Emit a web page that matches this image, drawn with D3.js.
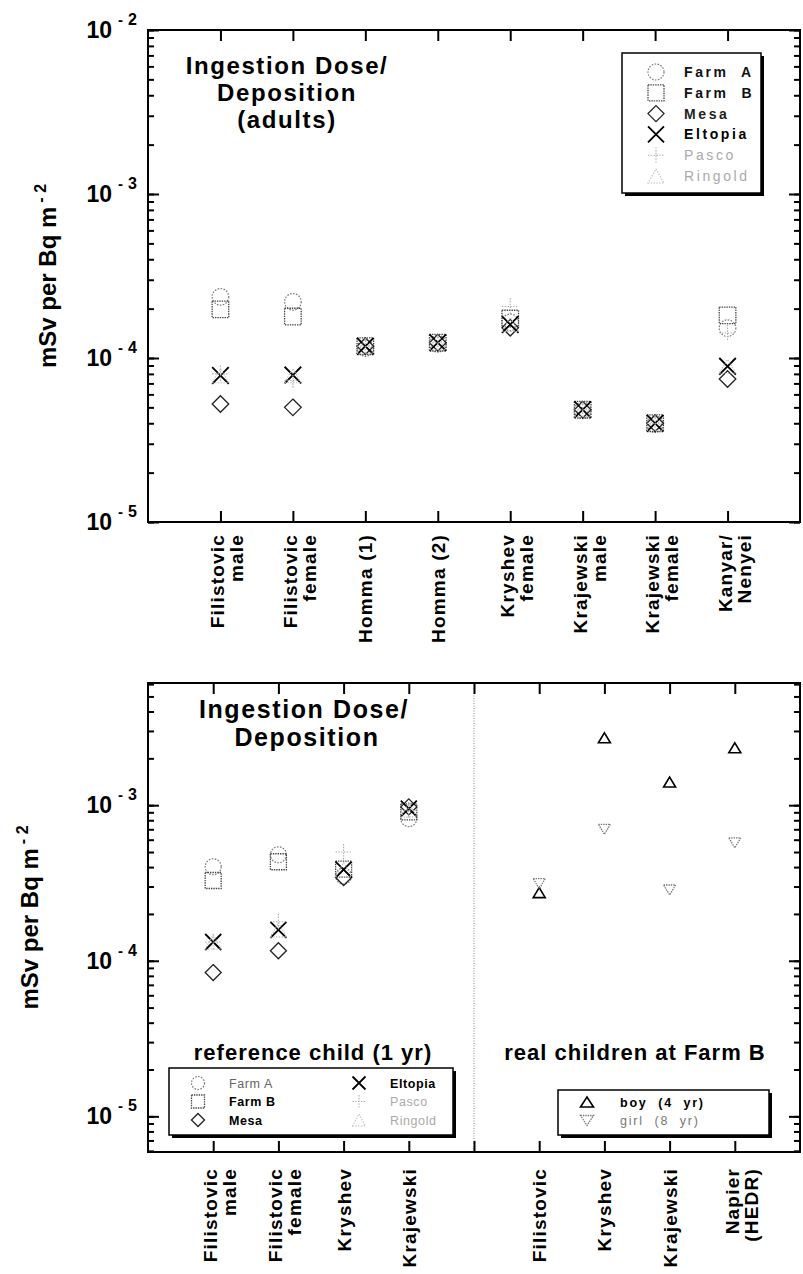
<!DOCTYPE html>
<html>
<head>
<meta charset="utf-8">
<script src="https://cdn.jsdelivr.net/npm/d3@7"></script>
<style>
  body { margin: 0; background: #fff; }
  svg { display: block; }
  text { font-family: "Liberation Sans", Arial, sans-serif; font-weight: bold; fill: #000; }
</style>
</head>
<body>
<svg id="fig" width="803" height="1274"></svg>
<script>
// ---- Adults: ingestion dose per unit deposition (mSv per Bq m^-2) ----
const adultCategories = [["Filistovic", "male"], ["Filistovic", "female"], ["Homma (1)"], ["Homma (2)"],
                         ["Kryshev", "female"], ["Krajewski", "male"], ["Krajewski", "female"], ["Kanyar/", "Nenyei"]];
const adultFarmA   = [2.36e-4, 2.20e-4, 1.15e-4, 1.22e-4, 1.65e-4, 4.80e-5, 3.95e-5, 1.52e-4];
const adultFarmB   = [1.98e-4, 1.79e-4, 1.18e-4, 1.24e-4, 1.74e-4, 4.84e-5, 4.00e-5, 1.82e-4];
const adultMesa    = [5.24e-5, 5.00e-5, 1.18e-4, 1.24e-4, 1.53e-4, 4.84e-5, 4.00e-5, 7.45e-5];
const adultEltopia = [7.82e-5, 7.87e-5, 1.18e-4, 1.24e-4, 1.60e-4, 4.84e-5, 4.00e-5, 8.90e-5];
const adultPasco   = [8.00e-5, 7.30e-5, 1.18e-4, 1.24e-4, 2.06e-4, 4.84e-5, 4.00e-5, 1.42e-4];
const adultRingold = [7.80e-5, 7.80e-5, 1.18e-4, 1.24e-4, 1.60e-4, 4.84e-5, 4.00e-5, 8.90e-5];

// ---- Reference child (1 yr) ----
const childCategories = [["Filistovic", "male"], ["Filistovic", "female"], ["Kryshev"], ["Krajewski"]];
const childFarmA   = [4.02e-4, 4.80e-4, 3.50e-4, 8.20e-4];
const childFarmB   = [3.28e-4, 4.33e-4, 3.88e-4, 9.06e-4];
const childMesa    = [8.40e-5, 1.16e-4, 3.43e-4, 9.75e-4];
const childEltopia = [1.32e-4, 1.58e-4, 3.85e-4, 9.50e-4];
const childPasco   = [1.32e-4, 1.78e-4, 5.00e-4, 9.30e-4];
const childRingold = [1.32e-4, 1.58e-4, 3.85e-4, 9.30e-4];

// ---- Real children at Farm B ----
const realCategories = [["Filistovic"], ["Kryshev"], ["Krajewski"], ["Napier", "(HEDR)"]];
const boyDose  = [2.74e-4, 2.71e-3, 1.41e-3, 2.34e-3];
const girlDose = [3.13e-4, 7.00e-4, 2.85e-4, 5.73e-4];

// ---- Axis labels ----
const adultExponents = [-5, -4, -3, -2];
const childExponents = [-5, -4, -3];
const yAxisTitle = "mSv per Bq m";
const yAxisTitleSup = "- 2";

const svg = d3.select("#fig");

// Marker styles per site / child
const markerStyle = {
  farmA:   { shape: "circle",  stroke: "#7a7a7a", width: 1.2, dash: "1.6,1.4" },
  farmB:   { shape: "square",  stroke: "#444",    width: 1.3, dash: "1.4,1" },
  mesa:    { shape: "diamond", stroke: "#222",    width: 1.3, dash: null },
  eltopia: { shape: "cross",   stroke: "#000",    width: 1.8, dash: null },
  pasco:   { shape: "plus",    stroke: "#aaa",    width: 1.1, dash: "1.4,1.4" },
  ringold: { shape: "triUp",   stroke: "#bbb",    width: 1.1, dash: "1.4,1.4" },
  boy:     { shape: "triUp",   stroke: "#000",    width: 1.6, dash: null },
  girl:    { shape: "triDown", stroke: "#777",    width: 1.3, dash: "1.4,1" }
};

function shapePath(shape, h, th) {
  switch (shape) {
    case "square":  return `M${-h},${-h}H${h}V${h}H${-h}Z`;
    case "diamond": return `M0,${-h}L${h},0L0,${h}L${-h},0Z`;
    case "cross":   return `M${-h},${-h}L${h},${h}M${-h},${h}L${h},${-h}`;
    case "plus":    return `M${-h},0H${h}M0,${-h}V${h}`;
    case "triUp":   return `M${-h},${th}H${h}L0,${-th}Z`;
    case "triDown": return `M${-h},${-th}H${h}L0,${th}Z`;
  }
  return "";
}

function marker(g, key, x, y, h, th) {
  const s = markerStyle[key];
  let el;
  if (s.shape === "circle") {
    el = g.append("circle").attr("cx", x).attr("cy", y).attr("r", h);
  } else {
    el = g.append("path").attr("d", shapePath(s.shape, h, th === undefined ? h : th))
      .attr("transform", `translate(${x},${y})`);
  }
  el.attr("fill", "none").attr("stroke", s.stroke).attr("stroke-width", s.width);
  if (s.dash) el.attr("stroke-dasharray", s.dash);
  return el;
}

function minorValues(domain) {
  const out = [];
  for (let e = -7; e <= -1; e++) {
    for (let k = 1; k <= 9; k++) {
      const v = k * Math.pow(10, e);
      if (v >= domain[0] * 0.999 && v <= domain[1] * 1.001) out.push(v);
    }
  }
  return out;
}

function drawFrame(g, p, x, y, xTicks, exps) {
  const dom = y.domain();
  const minors = minorValues(dom);
  const majors = exps.map(e => Math.pow(10, e)).filter(v => v >= dom[0] * 0.999 && v <= dom[1] * 1.001);
  const strip = sel => { sel.select(".domain").remove(); sel.selectAll("line").attr("stroke", "#000").attr("stroke-width", 2); };
  const specs = [
    [d3.axisRight(y), `translate(${p.left},0)`],
    [d3.axisLeft(y), `translate(${p.right},0)`]
  ];
  specs.forEach(([ax, tr]) => {
    g.append("g").attr("transform", tr).call(ax.tickValues(minors).tickSize(6).tickFormat("")).call(strip);
    g.append("g").attr("transform", tr).call(ax.tickValues(majors).tickSize(11).tickFormat("")).call(strip);
  });
  g.append("g").attr("transform", `translate(0,${p.top})`)
    .call(d3.axisBottom(x).tickValues(xTicks).tickSize(11).tickFormat("")).call(strip);
  g.append("g").attr("transform", `translate(0,${p.bottom})`)
    .call(d3.axisTop(x).tickValues(xTicks).tickSize(11).tickFormat("")).call(strip);
  g.append("rect").attr("x", p.left).attr("y", p.top)
    .attr("width", p.right - p.left).attr("height", p.bottom - p.top)
    .attr("fill", "none").attr("stroke", "#000").attr("stroke-width", 2);

  // decade labels 10^-n
  exps.forEach(e => {
    const t = g.append("text").attr("x", p.left - 11).attr("y", y(Math.pow(10, e)) + 8)
      .attr("text-anchor", "end").style("font-size", "23px");
    t.append("tspan").text("10");
    t.append("tspan").attr("dx", 6).attr("dy", -13).style("font-size", "15px").text("-");
    t.append("tspan").attr("dx", 5).style("font-size", "16px").text(String(-e));
  });
}

function drawYTitle(g, bx, cy) {
  const t = g.append("text").attr("transform", `translate(${bx},${cy}) rotate(-90)`)
    .attr("text-anchor", "middle").style("font-size", "24px");
  t.append("tspan").text(yAxisTitle);
  t.append("tspan").attr("dx", 4).attr("dy", -10).style("font-size", "16px").text(yAxisTitleSup);
}

function drawXLabels(g, cats, positions, x, yTop, gap) {
  cats.forEach((lines, i) => {
    const cx = x(positions[i]);
    lines.forEach((line, j) => {
      const bx = lines.length === 1 ? cx + 7 : cx + 4 + j * gap;
      g.append("text").attr("transform", `translate(${bx},${yTop}) rotate(-90)`)
        .attr("text-anchor", "end").style("font-size", "19px").style("letter-spacing", "1.2px")
        .text(line);
    });
  });
}

function legendBox(g, x0, y0, w, h) {
  g.append("rect").attr("x", x0 + 3).attr("y", y0 + 3).attr("width", w).attr("height", h).attr("fill", "#000");
  g.append("rect").attr("x", x0).attr("y", y0).attr("width", w).attr("height", h)
    .attr("fill", "#fff").attr("stroke", "#000").attr("stroke-width", 1.5);
}

// =================== Adults panel ===================
const pA = { left: 148, right: 800, top: 30, bottom: 522 };
const xA = d3.scaleLinear().domain([0, 9]).range([pA.left, pA.right]);
const yA = d3.scaleLog().domain([1e-5, 1e-2]).range([pA.bottom, pA.top]);
const gA = svg.append("g");
const adultPos = adultCategories.map((d, i) => i + 1);

const adultSeries = [["farmA", adultFarmA], ["farmB", adultFarmB], ["mesa", adultMesa],
                     ["eltopia", adultEltopia], ["pasco", adultPasco], ["ringold", adultRingold]];
adultSeries.forEach(([key, vals]) => {
  vals.forEach((v, i) => marker(gA, key, xA(adultPos[i]), yA(v), 8.3, key === "ringold" ? 7 : undefined));
});
drawFrame(gA, pA, xA, yA, adultPos, adultExponents);
drawYTitle(gA, 56, (pA.top + pA.bottom) / 2);
drawXLabels(gA, adultCategories, adultPos, xA, pA.bottom + 12, 19);

// title
[["Ingestion Dose/", 74], ["Deposition", 101], ["(adults)", 128]].forEach(([t, yy]) => {
  gA.append("text").attr("x", 287).attr("y", yy).attr("text-anchor", "middle")
    .style("font-size", "24px").style("letter-spacing", "1.6px").text(t);
});

// legend
const legA = gA.append("g");
legendBox(legA, 622, 53, 139, 140);
const legAItems = [["farmA", "Farm  A", "#111"], ["farmB", "Farm  B", "#111"], ["mesa", "Mesa", "#222"],
                   ["eltopia", "Eltopia", "#000"], ["pasco", "Pasco", "#aaa"], ["ringold", "Ringold", "#aaa"]];
legAItems.forEach(([key, label, col], i) => {
  const yy = 72 + i * 20.8;
  marker(legA, key, 656, yy, 8, key === "ringold" ? 7 : undefined);
  legA.append("text").attr("x", 684).attr("y", yy + 5).style("font-size", "14px")
    .style("letter-spacing", "2.6px").style("white-space", "pre")
    .style("font-weight", key === "pasco" || key === "ringold" ? "normal" : "bold")
    .style("fill", col).text(label);
});

// =================== Children panel ===================
const pB = { left: 148, right: 800, top: 683, bottom: 1152 };
const xB = d3.scaleLinear().domain([0, 10]).range([pB.left, pB.right]);
const yB = d3.scaleLog().domain([5.9e-6, 6.1e-3]).range([pB.bottom, pB.top]);
const gB = svg.append("g");
const childPos = [1, 2, 3, 4];
const realPos = [6, 7, 8, 9];
const dividerPos = 5;

// divider between reference and real children
gB.append("line").attr("x1", xB(dividerPos)).attr("x2", xB(dividerPos))
  .attr("y1", pB.top).attr("y2", pB.bottom)
  .attr("stroke", "#888").attr("stroke-width", 1).attr("stroke-dasharray", "1,1.5");

const childSeries = [["farmA", childFarmA], ["farmB", childFarmB], ["mesa", childMesa],
                     ["eltopia", childEltopia], ["pasco", childPasco], ["ringold", childRingold]];
childSeries.forEach(([key, vals]) => {
  vals.forEach((v, i) => marker(gB, key, xB(childPos[i]), yB(v), 8, key === "ringold" ? 7 : undefined));
});
boyDose.forEach((v, i) => marker(gB, "boy", xB(realPos[i]), yB(v), 6, 5));
girlDose.forEach((v, i) => marker(gB, "girl", xB(realPos[i]), yB(v), 6, 5));

drawFrame(gB, pB, xB, yB, [1, 2, 3, 4, 5, 6, 7, 8, 9], childExponents);
drawYTitle(gB, 38, (pB.top + pB.bottom) / 2);
drawXLabels(gB, childCategories, childPos, xB, pB.bottom + 16, 19);
drawXLabels(gB, realCategories, realPos, xB, pB.bottom + 16, 19);

[["Ingestion Dose/", 304, 718], ["Deposition", 307, 746]].forEach(([t, xx, yy]) => {
  gB.append("text").attr("x", xx).attr("y", yy).attr("text-anchor", "middle")
    .style("font-size", "25px").style("letter-spacing", "1.6px").text(t);
});
gB.append("text").attr("x", 313).attr("y", 1060).attr("text-anchor", "middle")
  .style("font-size", "22px").style("letter-spacing", "1px").text("reference child (1 yr)");
gB.append("text").attr("x", 635).attr("y", 1060).attr("text-anchor", "middle")
  .style("font-size", "22px").style("letter-spacing", "1px").text("real children at Farm B");

// reference child legend
const legB = gB.append("g");
legendBox(legB, 169, 1068, 284, 67);
const legBItems = [["farmA", "Farm A", "#666", "normal", 198, 229],
                   ["farmB", "Farm B", "#000", "bold", 198, 229],
                   ["mesa", "Mesa", "#000", "bold", 198, 229],
                   ["eltopia", "Eltopia", "#000", "bold", 359, 390],
                   ["pasco", "Pasco", "#aaa", "normal", 359, 390],
                   ["ringold", "Ringold", "#aaa", "normal", 359, 390]];
legBItems.forEach(([key, label, col, wt, sx, tx], i) => {
  const yy = 1083 + (i % 3) * 18.5;
  marker(legB, key, sx, yy, 6.5, key === "ringold" ? 6 : undefined);
  legB.append("text").attr("x", tx).attr("y", yy + 4.5).style("font-size", "12.5px")
    .style("letter-spacing", "0.6px").style("font-weight", wt).style("fill", col).text(label);
});

// real children legend
const legC = gB.append("g");
legendBox(legC, 558, 1090, 211, 45);
[["boy", "boy  (4  yr)", "#000", "bold"], ["girl", "girl  (8  yr)", "#777", "normal"]].forEach(([key, label, col, wt], i) => {
  const yy = 1102 + i * 18.5;
  marker(legC, key, 587, yy, 6.5, 5);
  legC.append("text").attr("x", 620).attr("y", yy + 4.5).style("font-size", "12.5px")
    .style("letter-spacing", "1.8px").style("white-space", "pre")
    .style("font-weight", wt).style("fill", col).text(label);
});
</script>
</body>
</html>
